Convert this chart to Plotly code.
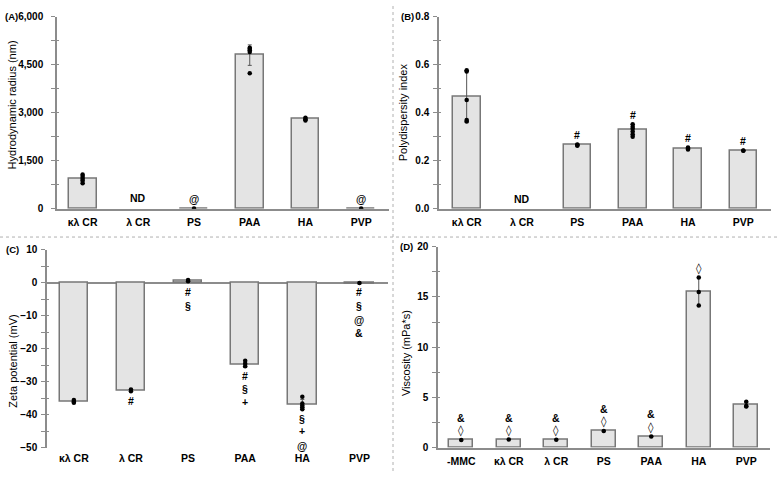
import plotly.graph_objects as go

# ---------------- data ----------------
cats6 = ["κλ CR", "λ CR", "PS", "PAA", "HA", "PVP"]
cats7 = ["-MMC", "κλ CR", "λ CR", "PS", "PAA", "HA", "PVP"]

radius_mean = [940, None, 12, 4800, 2805, 12]
radius_err = [100, None, 0, 320, 40, 0]
radius_pts = [[800, 880, 940, 1000, 1070], [], [12], [4230, 4900, 4950, 5000, 5030], [2760, 2800, 2840], [12]]
radius_sig = [[], ["ND"], ["@"], [], [], ["@"]]
radius_sig_y = [[], [335], [320], [], [], [320]]

pdi_mean = [0.468, None, 0.265, 0.328, 0.252, 0.242]
pdi_err = [0.108, None, 0.003, 0.024, 0.004, 0.001]
pdi_pts = [[0.577, 0.572, 0.453, 0.37, 0.363], [], [0.262, 0.266, 0.268],
           [0.30, 0.31, 0.322, 0.333, 0.342, 0.352], [0.247, 0.251, 0.255], [0.242, 0.243]]
pdi_sig = [[], ["ND"], ["#"], ["#"], ["#"], ["#"]]
pdi_sig_y = [[], [0.042], [0.309], [0.39], [0.295], [0.284]]

zeta_mean = [-36.0, -32.6, 0.6, -25.0, -36.9, -0.2]
zeta_err = [0.4, 0.3, 0.3, 0.7, 1.5, 0.1]
zeta_pts = [[-35.6, -36.0, -36.4], [-32.4, -32.9], [0.4, 0.8], [-23.7, -24.6, -25.3],
            [-34.6, -36.6, -37.2, -37.8, -38.4], [-0.1]]
zeta_sig = [[], ["#"], ["#", "§"], ["#", "§", "+"], ["§", "+", "@"], ["#", "§", "@", "&"]]
zeta_sig_y = [[], [-35.9], [-2.9, -7.1], [-28.4, -32.3, -36.1], [-41.2, -44.9, -49.4],
              [-2.9, -7.1, -11.3, -15.2]]

visc_mean = [0.76, 0.82, 0.78, 1.65, 1.1, 15.5, 4.3]
visc_err = [0.02, 0.02, 0.02, 0.03, 0.03, 1.4, 0.25]
visc_pts = [[0.76], [0.81], [0.78], [1.66], [1.11], [16.95, 15.5, 14.15], [4.56, 4.1, 4.15]]
visc_sig = [["◊", "&"], ["◊", "&"], ["◊", "&"], ["◊", "&"], ["◊", "&"], ["◊"], []]
visc_sig_y = [[1.73, 2.94], [1.73, 2.94], [1.73, 2.94], [2.61, 3.85], [2.02, 3.33], [17.85], []]

# ---------------- styling ----------------
W, H = 777, 477
FONT = "Liberation Sans, Arial, sans-serif"
SYMFONT = "DejaVu Sans, sans-serif"
AXC = "#8c8c8c"
BARFILL = "#e4e4e4"
BARLINE = "#777777"

def px(x):
    return x / W

def py(y):
    return 1 - y / H

panels = [
    dict(cats=cats6, mean=radius_mean, err=radius_err, pts=radius_pts, sig=radius_sig, sigy=radius_sig_y,
         xd=[px(57), px(389)], yd=[py(208), py(11)], xr=[-0.46, 5.5], yr=[0, 6000], dt=1500, mdt=750,
         fmt=",d", so=6, title="Hydrodynamic radius (nm)", tx=12, ty=102, lab="(A)", lx=11, ly=11),
    dict(cats=cats6, mean=pdi_mean, err=pdi_err, pts=pdi_pts, sig=pdi_sig, sigy=pdi_sig_y,
         xd=[px(439), px(771)], yd=[py(208), py(11)], xr=[-0.5, 5.5], yr=[0, 0.8], dt=0.2, mdt=0.1,
         fmt=".1f", so=2, title="Polydispersity index", tx=403, ty=109, lab="(B)", lx=408, ly=11),
    dict(cats=cats6, mean=zeta_mean, err=zeta_err, pts=zeta_pts, sig=zeta_sig, sigy=zeta_sig_y,
         xd=[px(47), px(388)], yd=[py(453), py(250)], xr=[-0.47, 5.5], yr=[-50, 10], dt=10, mdt=5,
         fmt="d", so=2, title="Zeta potential (mV)", tx=13, ty=364, lab="(C)", lx=12, ly=250),
    dict(cats=cats7, mean=visc_mean, err=visc_err, pts=visc_pts, sig=visc_sig, sigy=visc_sig_y,
         xd=[px(438), px(770)], yd=[py(453), py(247)], xr=[-0.49, 6.5], yr=[0, 20], dt=5, mdt=2.5,
         fmt="d", so=2, title="Viscosity (mPa*s)", tx=406, ty=356, lab="(D)", lx=406, ly=247),
]

fig = go.Figure()
annotations = []
layout = {}

for i, p in enumerate(panels):
    n = i + 1
    xa = "x" if n == 1 else f"x{n}"
    ya = "y" if n == 1 else f"y{n}"
    ov = 4 + n  # overlay y-axis index for cross ticks
    fig.add_trace(go.Bar(
        x=p["cats"], y=p["mean"], width=0.5, xaxis=xa, yaxis=ya,
        marker=dict(color=BARFILL, line=dict(color=BARLINE, width=1.5)),
        error_y=dict(type="data", array=p["err"], color="#555555", thickness=1, width=2),
        hoverinfo="skip"))
    xs, ys = [], []
    for c, vals in zip(p["cats"], p["pts"]):
        for v in vals:
            xs.append(c)
            ys.append(v)
    fig.add_trace(go.Scatter(x=xs, y=ys, mode="markers", xaxis=xa, yaxis=ya,
                             marker=dict(color="black", size=4.5), hoverinfo="skip"))
    # dummy trace for overlay axis
    fig.add_trace(go.Scatter(x=[p["cats"][0]], y=[p["yr"][0]], mode="markers", xaxis=xa, yaxis=f"y{ov}",
                             marker=dict(opacity=0), hoverinfo="skip"))

    zero_line = p["yr"][0] < 0
    layout["xaxis" if n == 1 else f"xaxis{n}"] = dict(
        domain=p["xd"], range=p["xr"], anchor=ya, type="category",
        categoryorder="array", categoryarray=p["cats"],
        showline=not zero_line, linecolor=AXC, linewidth=1.5, ticks="", showgrid=False,
        tickfont=dict(family=FONT, size=10.5, color="black", weight="bold"),
        ticklabelstandoff=3, fixedrange=True)
    yax = dict(domain=p["yd"], range=p["yr"], anchor=xa, dtick=p["dt"], tick0=0,
               tickformat=p["fmt"], showline=True, linecolor=AXC, linewidth=1.5,
               ticks="outside", ticklen=4, tickcolor=AXC, tickwidth=1,
               minor=dict(dtick=p["mdt"], tick0=0, ticks="outside", ticklen=4, tickcolor=AXC, tickwidth=1),
               showgrid=False, zeroline=zero_line, zerolinecolor=AXC, zerolinewidth=1.5,
               tickfont=dict(family=FONT, size=10, color="black", weight="bold"),
               ticklabelstandoff=p["so"], fixedrange=True)
    layout["yaxis" if n == 1 else f"yaxis{n}"] = yax
    layout[f"yaxis{ov}"] = dict(overlaying=ya, anchor=xa, range=p["yr"], dtick=p["dt"], tick0=0,
                                showline=False, ticks="inside", ticklen=2, tickcolor=AXC, tickwidth=1,
                                minor=dict(dtick=p["mdt"], tick0=0, ticks="inside", ticklen=2,
                                           tickcolor=AXC, tickwidth=1),
                                showticklabels=False, showgrid=False, zeroline=False, fixedrange=True)

    # significance markers
    for c, texts, yvals in zip(p["cats"], p["sig"], p["sigy"]):
        for t, yv in zip(texts, yvals):
            sym = t == "◊"
            annotations.append(dict(
                x=c, y=yv, xref=xa, yref=ya, text=t, showarrow=False,
                font=dict(family=SYMFONT if sym else FONT, size=11 if sym else 10.5, color="black",
                          weight="normal" if sym else "bold")))
    # axis title
    annotations.append(dict(x=px(p["tx"]), y=py(p["ty"]), xref="paper", yref="paper", text=p["title"],
                            textangle=-90, showarrow=False, xanchor="center", yanchor="middle",
                            font=dict(family=FONT, size=11, color="black")))
    # panel label
    annotations.append(dict(x=px(p["lx"]), y=py(p["ly"]), xref="paper", yref="paper", text=p["lab"],
                            showarrow=False, xanchor="center", yanchor="middle",
                            font=dict(family=FONT, size=9.5, color="black", weight="bold")))

shapes = [
    dict(type="line", xref="paper", yref="paper", x0=px(393), x1=px(393), y0=0, y1=1,
         line=dict(color="#b0b0b0", width=1, dash="dot")),
    dict(type="line", xref="paper", yref="paper", x0=0, x1=1, y0=py(237), y1=py(237),
         line=dict(color="#b0b0b0", width=1, dash="dot")),
]

fig.update_layout(width=W, height=H, margin=dict(l=0, r=0, t=0, b=0),
                  paper_bgcolor="white", plot_bgcolor="white", showlegend=False,
                  bargap=0, annotations=annotations, shapes=shapes,
                  font=dict(family=FONT, size=11, color="black"), **layout)

fig.write_html("out.html")
